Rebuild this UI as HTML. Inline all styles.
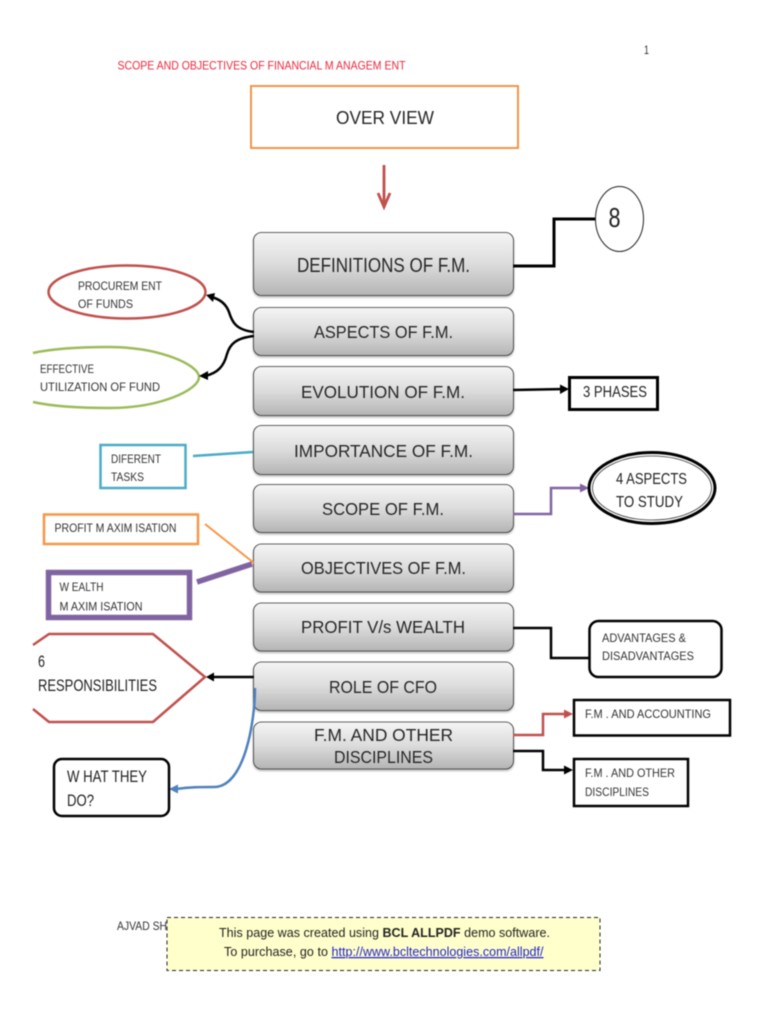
<!DOCTYPE html>
<html><head><meta charset="utf-8"><style>
html,body{margin:0;padding:0;background:#fff;width:768px;height:1024px;overflow:hidden}
svg{display:block;filter:blur(.45px)}
text{font-family:"Liberation Sans",sans-serif;fill:#2c2c2c}
.b{font-size:17.500px;fill:#262626}
.s{font-size:11.800px;fill:#333}
.m{font-size:16px;fill:#222}
</style></head><body>
<svg width="768" height="1024" viewBox="0 0 768 1024" xmlns="http://www.w3.org/2000/svg">
<defs>
<linearGradient id="g" x1="0" y1="0" x2="0" y2="1"><stop offset="0" stop-color="#f5f5f5"/><stop offset=".5" stop-color="#dcdcdc"/><stop offset="1" stop-color="#b4b4b4"/></linearGradient>
<filter id="sh" x="-5%" y="-10%" width="110%" height="125%"><feDropShadow dx="0" dy="1.5" stdDeviation="1" flood-color="#000" flood-opacity=".3"/></filter>
</defs>
<rect width="768" height="1024" fill="#fff"/>
<text x="644" y="54" font-size="12" textLength="5" lengthAdjust="spacingAndGlyphs">1</text>
<text x="117.500" y="69.500" font-size="11.800" style="fill:#e8293c" textLength="288" lengthAdjust="spacingAndGlyphs">SCOPE AND OBJECTIVES OF FINANCIAL M ANAGEM ENT</text>

<rect x="251" y="86" width="267" height="62" fill="#fff" stroke="#f0954a" stroke-width="2"/>
<text class="b" x="336" y="124" style="font-size:18px" textLength="98" lengthAdjust="spacingAndGlyphs">OVER VIEW</text>

<path d="M384 165V204" stroke="#c0504d" stroke-width="2.800" fill="none"/>
<path d="M378 193L384 207L390 193" stroke="#c0504d" stroke-width="2.800" fill="none"/>

<g fill="url(#g)" stroke="#333" stroke-width=".8" filter="url(#sh)">
<rect x="253.500" y="232.500" width="260" height="63" rx="8"/>
<rect x="253.500" y="307.500" width="260" height="48" rx="8"/>
<rect x="253.500" y="366.500" width="260" height="49" rx="8"/>
<rect x="253.500" y="425.500" width="260" height="49" rx="8"/>
<rect x="253.500" y="484.500" width="260" height="48" rx="8"/>
<rect x="253.500" y="544" width="260" height="48" rx="8"/>
<rect x="253.500" y="603" width="260" height="48" rx="8"/>
<rect x="253.500" y="662" width="260" height="48.500" rx="8"/>
<rect x="253.500" y="722" width="260" height="47" rx="8"/>
</g>
<text class="b" x="297" y="272" style="font-size:20.500px" textLength="173" lengthAdjust="spacingAndGlyphs">DEFINITIONS OF F.M.</text>
<text class="b" x="314" y="338" textLength="139" lengthAdjust="spacingAndGlyphs">ASPECTS OF F.M.</text>
<text class="b" x="301" y="398" textLength="164" lengthAdjust="spacingAndGlyphs">EVOLUTION OF F.M.</text>
<text class="b" x="294" y="457" textLength="179" lengthAdjust="spacingAndGlyphs">IMPORTANCE OF F.M.</text>
<text class="b" x="322" y="515" textLength="122" lengthAdjust="spacingAndGlyphs">SCOPE OF F.M.</text>
<text class="b" x="301" y="574" textLength="165" lengthAdjust="spacingAndGlyphs">OBJECTIVES OF F.M.</text>
<text class="b" x="301" y="633" textLength="164" lengthAdjust="spacingAndGlyphs">PROFIT V/s WEALTH</text>
<text class="b" x="329" y="693" textLength="108" lengthAdjust="spacingAndGlyphs">ROLE OF CFO</text>
<text class="b" x="314" y="741" textLength="139" lengthAdjust="spacingAndGlyphs">F.M. AND OTHER</text>
<text class="b" x="334" y="763" textLength="99" lengthAdjust="spacingAndGlyphs">DISCIPLINES</text>

<!-- 8 -->
<path d="M513 266H554V219H595" fill="none" stroke="#000" stroke-width="3"/>
<ellipse cx="619.500" cy="219" rx="24" ry="32.500" fill="#fff" stroke="#222" stroke-width="1"/>
<text x="608.500" y="227" font-size="28" style="fill:#222" textLength="12" lengthAdjust="spacingAndGlyphs">8</text>

<!-- left ovals -->
<ellipse cx="127" cy="292" rx="78.500" ry="26.500" fill="#fff" stroke="#c0504d" stroke-width="2.500"/>
<text class="s" x="78" y="290" textLength="84" lengthAdjust="spacingAndGlyphs">PROCUREM ENT</text>
<text class="s" x="78" y="308" textLength="55" lengthAdjust="spacingAndGlyphs">OF FUNDS</text>
<path d="M33 353Q60 347 109 347C160 347 199 365 199 377C199 390 160 408 109 408Q60 408 33 402" fill="#fff" stroke="#9bbb59" stroke-width="2.500"/>
<text class="s" x="40" y="373" textLength="54" lengthAdjust="spacingAndGlyphs">EFFECTIVE</text>
<text class="s" x="40" y="391" textLength="120" lengthAdjust="spacingAndGlyphs">UTILIZATION OF  FUND</text>
<path d="M254 332C236 330 232 322 229 312C226 304 220 299 211 297" fill="none" stroke="#000" stroke-width="2.500"/>
<path d="M206 295L215 293L213 302Z" fill="#000"/>
<path d="M254 336C236 338 230 344 227 354C224 366 218 373 205 376" fill="none" stroke="#000" stroke-width="2.500"/>
<path d="M199 376L208 371L208 380Z" fill="#000"/>

<!-- 3 phases -->
<path d="M513 390L565 389" stroke="#000" stroke-width="2.500" fill="none"/>
<path d="M569 389L560 384.500V394Z" fill="#000"/>
<rect x="569.500" y="377.500" width="88" height="32" fill="#fff" stroke="#000" stroke-width="3"/>
<text class="m" x="583" y="397" textLength="64" lengthAdjust="spacingAndGlyphs">3 PHASES</text>

<!-- different tasks -->
<path d="M193 456L253 452" stroke="#4bacc6" stroke-width="2.500" fill="none"/>
<rect x="100.500" y="445" width="85" height="43" fill="#fff" stroke="#4bacc6" stroke-width="2.500"/>
<text class="s" x="111" y="463" textLength="50" lengthAdjust="spacingAndGlyphs">DIFERENT</text>
<text class="s" x="111" y="481" textLength="33" lengthAdjust="spacingAndGlyphs">TASKS</text>

<!-- 4 aspects -->
<path d="M513 514H551V488H585" fill="none" stroke="#8064a2" stroke-width="2.500"/>
<path d="M589 488L580 483.500V492.500Z" fill="#8064a2"/>
<ellipse cx="652" cy="488" rx="63" ry="35.500" fill="#fff" stroke="#000" stroke-width="3"/>
<ellipse cx="652" cy="488" rx="59.500" ry="32" fill="none" stroke="#333" stroke-width=".8"/>
<text class="m" x="616" y="484" textLength="71" lengthAdjust="spacingAndGlyphs">4 ASPECTS</text>
<text class="m" x="616" y="507" textLength="67" lengthAdjust="spacingAndGlyphs">TO STUDY</text>

<!-- profit / wealth -->
<rect x="44" y="514.500" width="154" height="29.500" fill="#fff" stroke="#f79646" stroke-width="2.500"/>
<text class="s" x="54.500" y="532" textLength="122" lengthAdjust="spacingAndGlyphs">PROFIT M AXIM ISATION</text>
<path d="M205 524L254 563" stroke="#f79646" stroke-width="2" fill="none"/>
<rect x="48.500" y="572.500" width="141" height="45" fill="#fff" stroke="#8064a2" stroke-width="5.500"/>
<text class="s" x="59.500" y="591" textLength="44" lengthAdjust="spacingAndGlyphs">W EALTH</text>
<text class="s" x="59.500" y="610.500" textLength="83" lengthAdjust="spacingAndGlyphs">M AXIM ISATION</text>
<path d="M197 582L252 564" stroke="#8064a2" stroke-width="5.500" fill="none"/>

<!-- advantages -->
<path d="M513 628H551V658H590" fill="none" stroke="#000" stroke-width="2.500"/>
<rect x="589.500" y="621" width="132" height="56" rx="9" fill="#fff" stroke="#000" stroke-width="2.500"/>
<text class="s" x="602" y="642" textLength="84" lengthAdjust="spacingAndGlyphs">ADVANTAGES &amp;</text>
<text class="s" x="602" y="660" textLength="92" lengthAdjust="spacingAndGlyphs">DISADVANTAGES</text>

<!-- hexagon -->
<path d="M33 645L49 634H153L205 677L153 722H49L33 709" fill="#fff" stroke="#c0504d" stroke-width="2.500"/>
<text x="38" y="667" font-size="16.500" style="fill:#222" textLength="7" lengthAdjust="spacingAndGlyphs">6</text>
<text x="38" y="691" font-size="16.500" style="fill:#222" textLength="119" lengthAdjust="spacingAndGlyphs">RESPONSIBILITIES</text>
<path d="M254 677H212" stroke="#000" stroke-width="2.500" fill="none"/>
<path d="M206 677L214 672.500V681.500Z" fill="#000"/>

<!-- what they do -->
<path d="M255 688C255 720 245 787 214 787C200 787 190 787 176 789" fill="none" stroke="#4f81bd" stroke-width="2.500"/>
<path d="M169 789L178 784.500V793.500Z" fill="#4f81bd"/>
<rect x="54" y="759" width="115" height="57" rx="8" fill="#fff" stroke="#000" stroke-width="2.500"/>
<text x="67" y="782" font-size="17" style="fill:#222" textLength="80" lengthAdjust="spacingAndGlyphs">W HAT THEY</text>
<text x="67" y="806" font-size="17" style="fill:#222" textLength="27" lengthAdjust="spacingAndGlyphs">DO?</text>

<!-- F.M. boxes -->
<path d="M513 735H543V714H568" fill="none" stroke="#c0504d" stroke-width="2.500"/>
<path d="M573 714L564 709.500V718.500Z" fill="#c0504d"/>
<rect x="574" y="700" width="156" height="35.500" fill="#fff" stroke="#000" stroke-width="2.500"/>
<text class="s" x="585" y="718" textLength="126" lengthAdjust="spacingAndGlyphs">F.M . AND ACCOUNTING</text>
<path d="M513 751H543V770H568" fill="none" stroke="#000" stroke-width="2.500"/>
<path d="M573 770L564 765.500V774.500Z" fill="#000"/>
<rect x="574" y="759" width="114" height="47" fill="#fff" stroke="#000" stroke-width="2.500"/>
<text class="s" x="585" y="777" textLength="90" lengthAdjust="spacingAndGlyphs">F.M . AND OTHER</text>
<text class="s" x="585" y="796" textLength="64" lengthAdjust="spacingAndGlyphs">DISCIPLINES</text>

<!-- footer -->
<text x="117" y="930" font-size="11.800" style="fill:#333" textLength="50" lengthAdjust="spacingAndGlyphs">AJVAD SH</text>
<rect x="167" y="917.500" width="433" height="53" fill="#ffffcc" stroke="#222" stroke-width="1" stroke-dasharray="4 3"/>
<text x="219" y="937" font-size="12.500" style="fill:#222" textLength="331" lengthAdjust="spacing">This page was created using <tspan font-weight="bold">BCL ALLPDF</tspan> demo software.</text>
<text x="224" y="956" font-size="12.500" style="fill:#222" textLength="104" lengthAdjust="spacing">To purchase, go to</text>
<text x="331.500" y="956" font-size="12.500" style="fill:#2222cc;text-decoration:underline" textLength="212" lengthAdjust="spacing">http://www.bcltechnologies.com/allpdf/</text>
</svg>
</body></html>
